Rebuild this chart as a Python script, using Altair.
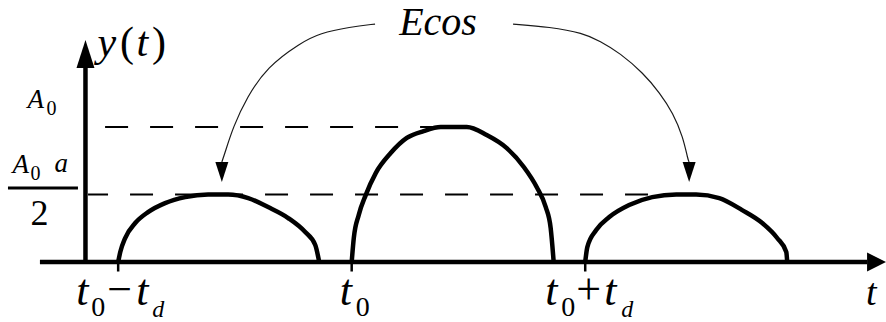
import altair as alt
import pandas as pd

# Time in units of t_d with t0 at zero; amplitude in units of A0 (a = 1).
TICK_T = [-1.0, 0.0, 1.0]          # t0 - td, t0, t0 + td
LEVEL_A0 = 1.0                     # A0
LEVEL_HALF = 0.5                   # A0 * a / 2

X_AXIS_T = [-1.335, 2.207]         # horizontal axis extent
Y_AXIS_T = -1.14                   # position of the vertical axis
Y_AXIS_V = [0.0, 1.437]            # vertical axis extent
TICK_DEPTH = -0.07

A0_LINE_T = [-1.056, 0.391]
HALF_LINE_T = [-1.129, 1.394]

# three received pulses
ARC1_T = [-1.0, -0.991, -0.970, -0.927, -0.872, -0.799, -0.713, -0.615,
          -0.529, -0.443, -0.358, -0.272, -0.199, -0.156, -0.139]
ARC1_V = [0.0, 0.074, 0.178, 0.289, 0.370, 0.437, 0.481, 0.5,
          0.5, 0.474, 0.407, 0.326, 0.222, 0.126, 0.0]

ARC2_T = [0.0, 0.009, 0.030, 0.060, 0.103, 0.167, 0.236, 0.308, 0.381,
          0.493, 0.578, 0.664, 0.737, 0.792, 0.831, 0.852, 0.865]
ARC2_V = [0.0, 0.178, 0.348, 0.496, 0.659, 0.807, 0.919, 0.970, 1.0,
          1.0, 0.941, 0.844, 0.704, 0.556, 0.407, 0.252, 0.0]

ARC3_T = [1.0, 1.009, 1.047, 1.103, 1.188, 1.287, 1.390, 1.475,
          1.574, 1.672, 1.758, 1.822, 1.861, 1.865]
ARC3_V = [0.0, 0.111, 0.237, 0.333, 0.422, 0.481, 0.5, 0.5,
          0.474, 0.385, 0.289, 0.178, 0.074, 0.0]

# pointers from the "Ecos" caption to the echo pulses
LEFT_ARROW_T = [0.100, -0.007, -0.136, -0.221, -0.363, -0.448, -0.508, -0.543, -0.556]
LEFT_ARROW_V = [1.763, 1.741, 1.696, 1.622, 1.444, 1.222, 1.0, 0.807, 0.741]
RIGHT_ARROW_T = [0.691, 0.849, 0.991, 1.063, 1.149, 1.248, 1.320, 1.376, 1.419, 1.440, 1.445]
RIGHT_ARROW_V = [1.763, 1.741, 1.696, 1.637, 1.548, 1.400, 1.252, 1.104, 0.926, 0.756, 0.741]

FONT = "Liberation Serif"
INK = "#000000"

XS = alt.Scale(domain=[-1.506, 2.288], nice=False, zero=False)
YS = alt.Scale(domain=[-0.444, 1.941], nice=False, zero=False)


def X(field="t"):
    return alt.X(f"{field}:Q", scale=XS, axis=None)


def Y(field="v"):
    return alt.Y(f"{field}:Q", scale=YS, axis=None)


arcs = pd.concat([
    pd.DataFrame({"t": ARC1_T, "v": ARC1_V, "arc": "a"}),
    pd.DataFrame({"t": ARC2_T, "v": ARC2_V, "arc": "b"}),
    pd.DataFrame({"t": ARC3_T, "v": ARC3_V, "arc": "c"}),
])

arrows = pd.concat([
    pd.DataFrame({"t": LEFT_ARROW_T, "v": LEFT_ARROW_V, "arrow": "left",
                  "k": range(len(LEFT_ARROW_T))}),
    pd.DataFrame({"t": RIGHT_ARROW_T, "v": RIGHT_ARROW_V, "arrow": "right",
                  "k": range(len(RIGHT_ARROW_T))}),
])
arrow_tips = pd.DataFrame({"t": [LEFT_ARROW_T[-1], RIGHT_ARROW_T[-1]],
                           "v": [LEFT_ARROW_V[-1], RIGHT_ARROW_V[-1]]})

layers = []

# axes
layers.append(alt.Chart(pd.DataFrame({"t": [X_AXIS_T[0]], "t2": [X_AXIS_T[1]], "v": [0.0]}))
              .mark_rule(color=INK, strokeWidth=4.5)
              .encode(x=X(), x2="t2", y=Y()))
layers.append(alt.Chart(pd.DataFrame({"t": [Y_AXIS_T], "v": [Y_AXIS_V[0]], "v2": [Y_AXIS_V[1]]}))
              .mark_rule(color=INK, strokeWidth=4.5)
              .encode(x=X(), y=Y(), y2="v2"))
layers.append(alt.Chart(pd.DataFrame({"t": [X_AXIS_T[1]], "v": [0.0]}))
              .mark_point(shape="M0,-0.95L0,0.95L1.9,0Z", size=400, filled=True,
                          fill=INK, strokeWidth=0, opacity=1)
              .encode(x=X(), y=Y()))
layers.append(alt.Chart(pd.DataFrame({"t": [Y_AXIS_T], "v": [Y_AXIS_V[1]]}))
              .mark_point(shape="M-0.9,0L0.9,0L0,-2.8Z", size=400, filled=True,
                          fill=INK, strokeWidth=0, opacity=1)
              .encode(x=X(), y=Y()))

# tick marks
layers.append(alt.Chart(pd.DataFrame({"t": TICK_T, "v": [0.0] * 3, "v2": [TICK_DEPTH] * 3}))
              .mark_rule(color=INK, strokeWidth=2.5)
              .encode(x=X(), y=Y(), y2="v2"))

# dashed reference levels
layers.append(alt.Chart(pd.DataFrame({"t": [A0_LINE_T[0]], "t2": [A0_LINE_T[1]], "v": [LEVEL_A0]}))
              .mark_rule(color=INK, strokeWidth=2, strokeDash=[23, 22])
              .encode(x=X(), x2="t2", y=Y()))
layers.append(alt.Chart(pd.DataFrame({"t": [HALF_LINE_T[0]], "t2": [HALF_LINE_T[1]], "v": [LEVEL_HALF]}))
              .mark_rule(color=INK, strokeWidth=2, strokeDash=[23, 22], strokeDashOffset=3)
              .encode(x=X(), x2="t2", y=Y()))

# pulses
layers.append(alt.Chart(arcs)
              .mark_line(color=INK, strokeWidth=4.5, interpolate="monotone")
              .encode(x=X(), y=Y(), detail="arc:N"))

# pointer curves and heads
layers.append(alt.Chart(arrows)
              .mark_line(color="#1a1a1a", strokeWidth=1.2, interpolate="basis")
              .encode(x=X(), y=Y(), detail="arrow:N", order="k:Q"))
layers.append(alt.Chart(arrow_tips)
              .mark_point(shape="M-0.65,0L0.65,0L0,2Z", size=400, filled=True,
                          fill=INK, strokeWidth=0, opacity=1)
              .encode(x=X(), y=Y()))

# fraction bar of A0*a/2
layers.append(alt.Chart(pd.DataFrame({"t": [Y_AXIS_T], "v": [LEVEL_HALF]}))
              .mark_rule(color=INK, strokeWidth=3, xOffset=-77.5, x2Offset=-7.5,
                         yOffset=-6.5, y2Offset=-6.5)
              .encode(x=X(), x2="t", y=Y(), y2="v"))


def label(text, t, v, dx, dy, size, italic=True, align="left"):
    return (alt.Chart(pd.DataFrame({"t": [t], "v": [v]}))
            .mark_text(text=text, font=FONT, fontStyle="italic" if italic else "normal",
                       fontSize=size, align=align, baseline="alphabetic",
                       dx=dx, dy=dy, color=INK)
            .encode(x=X(), y=Y()))


# tick labels
t_lo, t_mid, t_hi = TICK_T
layers += [
    label("t", t_lo, 0, -42, 43, 44),
    label("0", t_lo, 0, -27, 54, 28, italic=False),
    label("\u2212", t_lo, 0, -11, 42, 44, italic=False),
    label("t", t_lo, 0, 18, 43, 44),
    label("d", t_lo, 0, 34, 55, 24),
    label("t", t_mid, 0, -12, 43, 44),
    label("0", t_mid, 0, 4, 54, 28, italic=False),
    label("t", t_hi, 0, -40, 43, 44),
    label("0", t_hi, 0, -24, 54, 28, italic=False),
    label("+", t_hi, 0, -9, 42, 44, italic=False),
    label("t", t_hi, 0, 19, 43, 44),
    label("d", t_hi, 0, 36, 55, 24),
    label("t", X_AXIS_T[1], 0, -1, 43, 38),
]

# level labels
layers += [
    label("A", Y_AXIS_T, LEVEL_A0, -58, -19, 27),
    label("0", Y_AXIS_T, LEVEL_A0, -39, -12, 20, italic=False),
    label("A", Y_AXIS_T, LEVEL_HALF, -73, -21.5, 27),
    label("0", Y_AXIS_T, LEVEL_HALF, -55, -14.5, 20, italic=False),
    label("a", Y_AXIS_T, LEVEL_HALF, -31, -22.5, 27),
    label("2", Y_AXIS_T, LEVEL_HALF, -55, 30.5, 36, italic=False),
]

# axis title y(t)
layers += [
    label("y", Y_AXIS_T, Y_AXIS_V[1], 12, -12, 42),
    label("(", Y_AXIS_T, Y_AXIS_V[1], 34.5, -12, 42, italic=False),
    label("t", Y_AXIS_T, Y_AXIS_V[1], 51, -12, 42),
    label(")", Y_AXIS_T, Y_AXIS_V[1], 66.5, -12, 42, italic=False),
]

# caption shared by the two pointers
cap_t = (LEFT_ARROW_T[0] + RIGHT_ARROW_T[0]) / 2
cap_v = LEFT_ARROW_V[0]
layers.append(label("Ecos", cap_t, cap_v, -6, 11, 40, align="center"))

chart = (alt.layer(*layers)
         .properties(width=886, height=322, autosize=alt.AutoSizeParams(type="none"),
                     padding=0, background="white")
         .configure_view(stroke=None)
         .configure_text(font=FONT))

chart.save("out.html", embed_options={"renderer": "svg", "actions": False})
